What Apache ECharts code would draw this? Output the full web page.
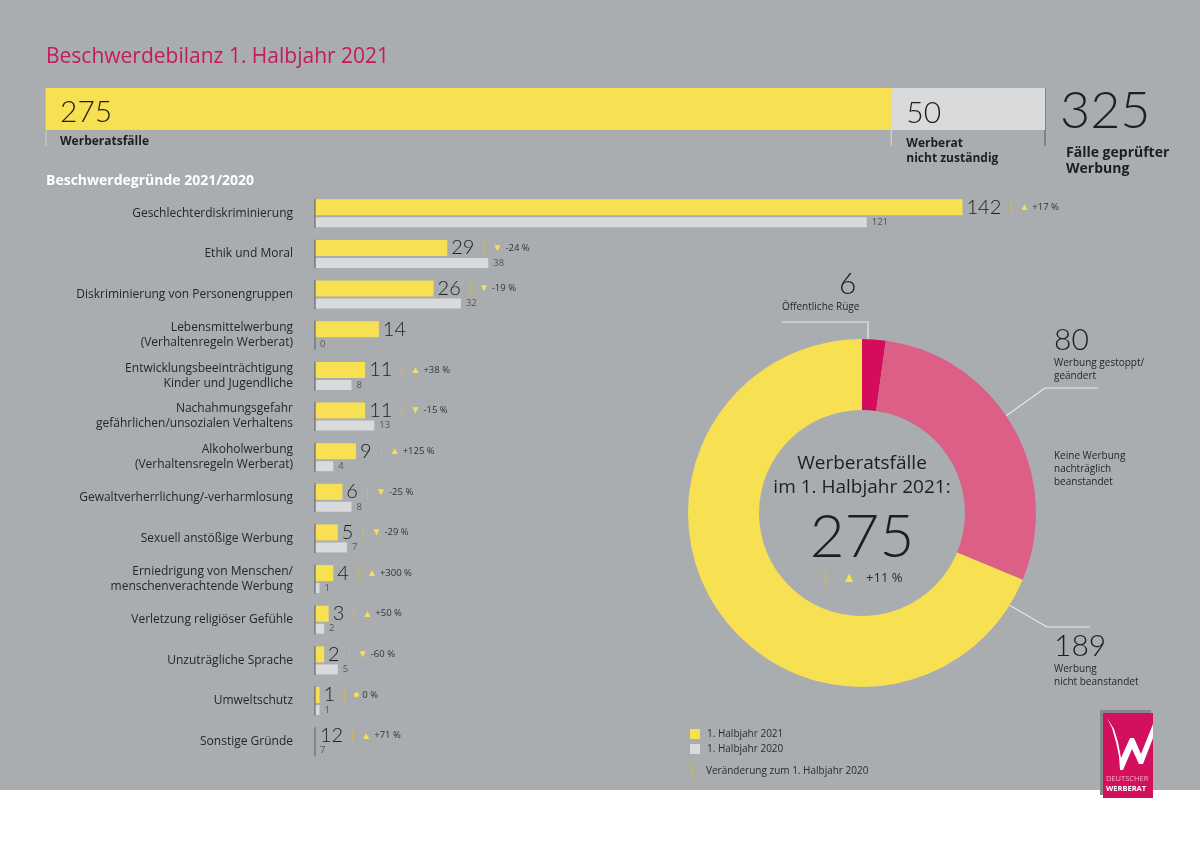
<!DOCTYPE html>
<html><head><meta charset="utf-8">
<script src="https://cdn.jsdelivr.net/npm/echarts@6/dist/echarts.min.js"></script>
<style>html,body{margin:0;padding:0;background:#fff}#c{width:1200px;height:847px}</style>
</head><body><div id="c"></div>
<script>
// ---------- data ----------
const titleText = 'Beschwerdebilanz 1. Halbjahr 2021';
const sectionTitle = 'Beschwerdegründe 2021/2020';
const topCategories = ['Werberatsfälle', 'Werberat\nnicht zuständig'];
const topValues = [275, 50];
const totalLabel = 'Fälle geprüfter\nWerbung';
const categories = [
  'Geschlechterdiskriminierung',
  'Ethik und Moral',
  'Diskriminierung von Personengruppen',
  'Lebensmittelwerbung\n(Verhaltenregeln Werberat)',
  'Entwicklungsbeeinträchtigung\nKinder und Jugendliche',
  'Nachahmungsgefahr\ngefährlichen/unsozialen Verhaltens',
  'Alkoholwerbung\n(Verhaltensregeln Werberat)',
  'Gewaltverherrlichung/-verharmlosung',
  'Sexuell anstößige Werbung',
  'Erniedrigung von Menschen/\nmenschenverachtende Werbung',
  'Verletzung religiöser Gefühle',
  'Unzuträgliche Sprache',
  'Umweltschutz',
  'Sonstige Gründe'
];
const values2021 = [142, 29, 26, 14, 11, 11, 9, 6, 5, 4, 3, 2, 1, 12];
const values2020 = [121, 38, 32, 0, 8, 13, 4, 8, 7, 1, 2, 5, 1, 7];
const seriesNames = ['1. Halbjahr 2021', '1. Halbjahr 2020'];
const changeNote = 'Veränderung zum 1. Halbjahr 2020';
const donutNames = ['Öffentliche Rüge', 'Werbung gestoppt/\ngeändert', 'Keine Werbung\nnachträglich\nbeanstandet', 'Werbung\nnicht beanstandet'];
const donutValues = [6, 80, 0, 189];
const donutCenterTitle = ['Werberatsfälle', 'im 1. Halbjahr 2021:'];
const logoText = ['DEUTSCHER', 'WERBERAT'];

// ---------- style ----------
const FONT = '"Open Sans", Lato, sans-serif';
const NUMFONT = 'Lato, "Open Sans", sans-serif';
const BG = '#a9adb0';
const YELLOW = '#f8e053';
const LIGHT = '#d9dadb';
const PINK = '#dc5f86';
const DARKPINK = '#d30c5c';
const SEP = '#d2bc45';
const hiddenBarCats = ['Sonstige Gründe'];

const sum = a => a.reduce((s, v) => s + v, 0);
function change(a, b) {
  if (b === 0) return null;
  const p = Math.round((a - b) / b * 100);
  return { sym: p > 0 ? '▲' : (p < 0 ? '▼' : '●'), txt: (p > 0 ? '+' : '') + p + ' %' };
}
const topTotal = sum(topValues);
const total2021 = sum(values2021), total2020 = sum(values2020);
const totalChange = change(total2021, total2020);

const PIE_C = [862, 513];
const PIE_R = [103, 174];
function edgePt(deg) {
  const r = deg * Math.PI / 180;
  return [PIE_C[0] + PIE_R[1] * Math.sin(r), PIE_C[1] - PIE_R[1] * Math.cos(r)];
}

const chart = echarts.init(document.getElementById('c'));

const numRich = { fontSize: 20, fontWeight: 300, color: '#1e1e1e', fontFamily: NUMFONT };
const changeRich = {
  sep: { fontSize: 13, color: SEP, padding: [0, 5, 0, 6], fontFamily: FONT },
  tri: { fontSize: 10, color: YELLOW, padding: [0, 3, 0, 0], fontFamily: FONT },
  pct: { fontSize: 9.5, color: '#333', fontFamily: FONT }
};

function barItems(values) {
  return values.map((v, i) => {
    const it = { value: v };
    if (hiddenBarCats.includes(categories[i])) {
      it.itemStyle = { color: 'rgba(0,0,0,0)' };
      it.label = { position: 'insideLeft', distance: 5 };
    }
    return it;
  });
}

const smallRich = { fontSize: 10, color: '#262626', lineHeight: 13, fontFamily: FONT };
const bigRich = { fontSize: 30, fontWeight: 300, color: '#1e1e1e', lineHeight: 34, fontFamily: NUMFONT };
const pieColors = [DARKPINK, PINK, PINK, YELLOW];
const pieData = donutValues.map((v, i) => {
  const it = { name: donutNames[i], value: v, itemStyle: { color: pieColors[i] } };
  if (v === 0) it.labelLine = { show: false };
  if (i === 0) it.label = { rich: { big: Object.assign({}, bigRich, { align: 'right', padding: [0, 3, 0, 0] }), small: smallRich } };
  return it;
});

const option = {
  backgroundColor: BG,
  animation: false,
  textStyle: { fontFamily: FONT },
  legend: {
    data: seriesNames,
    orient: 'vertical',
    left: 685, top: 724,
    itemWidth: 10, itemHeight: 10, itemGap: 5,
    icon: 'rect',
    textStyle: { fontSize: 10, color: '#2b2b2b', fontFamily: FONT, padding: [0, 0, 0, 2] },
    selectedMode: false
  },
  grid: [
    { left: 46, top: 88, width: 999, height: 42 },
    { left: 315, top: 193, width: 684, height: 569 }
  ],
  xAxis: [
    { gridIndex: 0, type: 'value', min: 0, max: topTotal, show: false },
    { gridIndex: 1, type: 'value', min: 0, max: 150, show: false }
  ],
  yAxis: [
    { gridIndex: 0, type: 'category', data: ['Fälle'], show: false },
    {
      gridIndex: 1, type: 'category', data: categories, inverse: true,
      axisLine: { show: false }, axisTick: { show: false },
      axisLabel: { fontSize: 12, color: '#262626', lineHeight: 15, margin: 22, fontFamily: FONT }
    }
  ],
  series: [
    {
      name: topCategories[0], type: 'bar', stack: 'top', xAxisIndex: 0, yAxisIndex: 0,
      data: [topValues[0]], barWidth: 42, itemStyle: { color: YELLOW }, silent: true,
      label: {
        show: true, position: [14, 3],
        formatter: p => '{num|' + p.value + '}\n{name|' + p.seriesName + '}',
        rich: {
          num: { fontSize: 30, fontWeight: 300, color: '#1e1e1e', lineHeight: 43, fontFamily: NUMFONT },
          name: { fontSize: 12, fontWeight: 'bold', color: '#1e1e1e', lineHeight: 16, fontFamily: FONT }
        }
      }
    },
    {
      name: topCategories[1], type: 'bar', stack: 'top', xAxisIndex: 0, yAxisIndex: 0,
      data: [topValues[1]], barWidth: 42, itemStyle: { color: LIGHT }, silent: true,
      label: {
        show: true, position: [15, 3],
        formatter: p => '{num|' + p.value + '}\n{name|' + p.seriesName.split('\n').join('}\n{name|') + '}',
        rich: {
          num: { fontSize: 30, fontWeight: 300, color: '#1e1e1e', lineHeight: 45, fontFamily: NUMFONT },
          name: { fontSize: 12, fontWeight: 'bold', color: '#1e1e1e', lineHeight: 15, fontFamily: FONT }
        }
      }
    },
    {
      name: seriesNames[0], type: 'bar', xAxisIndex: 1, yAxisIndex: 1,
      data: barItems(values2021), barWidth: 16, barGap: '12.5%', itemStyle: { color: YELLOW }, silent: true,
      label: {
        show: true, position: 'right', distance: 4,
        formatter: p => {
          const c = change(values2021[p.dataIndex], values2020[p.dataIndex]);
          let s = '{num|' + p.value + '}';
          if (c) s += '{sep||}{tri|' + c.sym + '}{pct|' + c.txt + '}';
          return s;
        },
        rich: Object.assign({ num: numRich }, changeRich)
      }
    },
    {
      name: seriesNames[1], type: 'bar', xAxisIndex: 1, yAxisIndex: 1,
      data: barItems(values2020), barWidth: 10, itemStyle: { color: LIGHT }, silent: true,
      label: { show: true, position: 'right', distance: 5, fontSize: 9.5, color: '#555', fontFamily: FONT }
    },
    {
      type: 'scatter', xAxisIndex: 1, yAxisIndex: 1, silent: true,
      data: categories.map((c, i) => [0, i]),
      symbol: 'rect', symbolSize: [1.6, 29], itemStyle: { color: '#6e6e6e' }, z: 5
    },
    {
      type: 'pie', center: PIE_C, radius: PIE_R, startAngle: 90, clockwise: true,
      avoidLabelOverlap: false, silent: true, data: pieData,
      label: {
        show: true, position: 'outside',
        formatter: p => {
          const nm = p.name.split('\n').map(t => '{small|' + t + '}').join('\n');
          return p.value === 0 ? nm : '{big|' + p.value + '}\n' + nm;
        },
        rich: { big: bigRich, small: smallRich }
      },
      labelLine: { show: true, lineStyle: { color: '#e8e8e8', width: 1.2 } },
      labelLayout: params => {
        const i = params.dataIndex;
        const C = PIE_C;
        if (i === 0) {
          const e = edgePt(2);
          return { x: C[0] - 80, y: C[1] - 246, align: 'left', verticalAlign: 'top',
            labelLinePoints: [e, [e[0], C[1] - 191], [C[0] - 80, C[1] - 191]] };
        }
        if (i === 1) {
          const e = edgePt(56);
          return { x: C[0] + 192, y: C[1] - 190, align: 'left', verticalAlign: 'top',
            labelLinePoints: [e, [C[0] + 183, C[1] - 125], [C[0] + 236, C[1] - 125]] };
        }
        if (i === 2) {
          return { x: C[0] + 192, y: C[1] - 63, align: 'left', verticalAlign: 'top' };
        }
        const e = edgePt(122);
        return { x: C[0] + 192, y: C[1] + 116, align: 'left', verticalAlign: 'top',
          labelLinePoints: [e, [C[0] + 185, C[1] + 114], [C[0] + 228, C[1] + 114]] };
      }
    }
  ],
  graphic: { elements: [
    { id: 'white', type: 'rect', shape: { x: 0, y: 790, width: 1200, height: 57 }, style: { fill: '#ffffff' }, silent: true },
    { id: 't1', type: 'text', x: 46, y: 57, style: { text: titleText, fontSize: 21, fill: '#c6195e', fontFamily: FONT, verticalAlign: 'middle' } },
    { id: 't2', type: 'text', x: 46, y: 181, style: { text: sectionTitle, fontSize: 14, fontWeight: 'bold', fill: '#ffffff', fontFamily: FONT, verticalAlign: 'middle' } },
    { id: 'c1', type: 'text', x: PIE_C[0], y: PIE_C[1] - 49, style: { text: donutCenterTitle[0], fontSize: 19, fill: '#1e1e1e', fontFamily: FONT, align: 'center', verticalAlign: 'middle' } },
    { id: 'c2', type: 'text', x: PIE_C[0], y: PIE_C[1] - 25, style: { text: donutCenterTitle[1], fontSize: 19, fill: '#1e1e1e', fontFamily: FONT, align: 'center', verticalAlign: 'middle' } },
    { id: 'c3', type: 'text', x: PIE_C[0], y: PIE_C[1] + 25, style: { text: String(total2021), fontSize: 60, fontWeight: 300, fill: '#1e1e1e', fontFamily: NUMFONT, align: 'center', verticalAlign: 'middle' } },
    { id: 'c4', type: 'text', x: PIE_C[0], y: PIE_C[1] + 65, style: {
      text: '{sep||}{tri|' + totalChange.sym + '}{pct|' + totalChange.txt + '}', align: 'center', verticalAlign: 'middle',
      rich: {
        sep: { fontSize: 16, fill: SEP, padding: [0, 12, 0, 0], fontFamily: FONT },
        tri: { fontSize: 14, fill: YELLOW, padding: [0, 10, 0, 0], fontFamily: FONT },
        pct: { fontSize: 13, fill: '#2b2b2b', fontFamily: FONT }
      } } },
    { id: 'n1', type: 'text', x: 689, y: 771, style: { text: '|', fontSize: 12, fill: SEP, fontFamily: FONT, verticalAlign: 'middle' } },
    { id: 'n2', type: 'text', x: 706, y: 771, style: { text: changeNote, fontSize: 10, fill: '#2b2b2b', fontFamily: FONT, verticalAlign: 'middle' } },
    { id: 'l0', type: 'rect', shape: { x: 1100, y: 710, width: 51, height: 85 }, style: { fill: '#86878a' } },
    { id: 'l1', type: 'rect', shape: { x: 1103, y: 713, width: 50, height: 85 }, style: { fill: '#d3105d' } },
    { id: 'l2', type: 'polygon', shape: { points: [[1107,718],[1112,728],[1116,742],[1119,756],[1120,770],[1123,770],[1132,749],[1139,764],[1143,764],[1153,738],[1153,724],[1141,754],[1134,738],[1130,738],[1121,758],[1118,742],[1114,729]] }, style: { fill: '#ffffff' } },
    { id: 'l3', type: 'text', x: 1106, y: 779, style: { text: logoText[0], fontSize: 7.5, fill: '#f4b3cc', fontFamily: FONT, verticalAlign: 'middle' } },
    { id: 'l4', type: 'text', x: 1106, y: 789, style: { text: logoText[1], fontSize: 7.5, fontWeight: 'bold', fill: '#ffffff', fontFamily: FONT, verticalAlign: 'middle' } }
  ] }
};
chart.setOption(option);

const px = v => chart.convertToPixel({ xAxisIndex: 0 }, v);
const x0 = px(0), x1 = px(topValues[0]), x2 = px(topTotal);
chart.setOption({ graphic: { elements: [
  { id: 'v0', type: 'line', shape: { x1: x0, y1: 88, x2: x0, y2: 146 }, style: { stroke: '#c9cbcd', lineWidth: 1.2 } },
  { id: 'v1', type: 'line', shape: { x1: x1, y1: 88, x2: x1, y2: 146 }, style: { stroke: '#d3d4d5', lineWidth: 1.2 } },
  { id: 'v2', type: 'line', shape: { x1: x2, y1: 88, x2: x2, y2: 146 }, style: { stroke: '#6f7174', lineWidth: 1.4 } },
  { id: 'tot', type: 'text', x: x2 + 15, y: 111, style: { text: String(topTotal), fontSize: 52, fontWeight: 300, fill: '#1e1e1e', fontFamily: NUMFONT, verticalAlign: 'middle' } },
  { id: 'totl', type: 'text', x: x2 + 21, y: 145, style: { text: totalLabel, fontSize: 14, fontWeight: 'bold', fill: '#1e1e1e', fontFamily: FONT, lineHeight: 16, verticalAlign: 'top' } }
] } });
</script>
</body></html>
